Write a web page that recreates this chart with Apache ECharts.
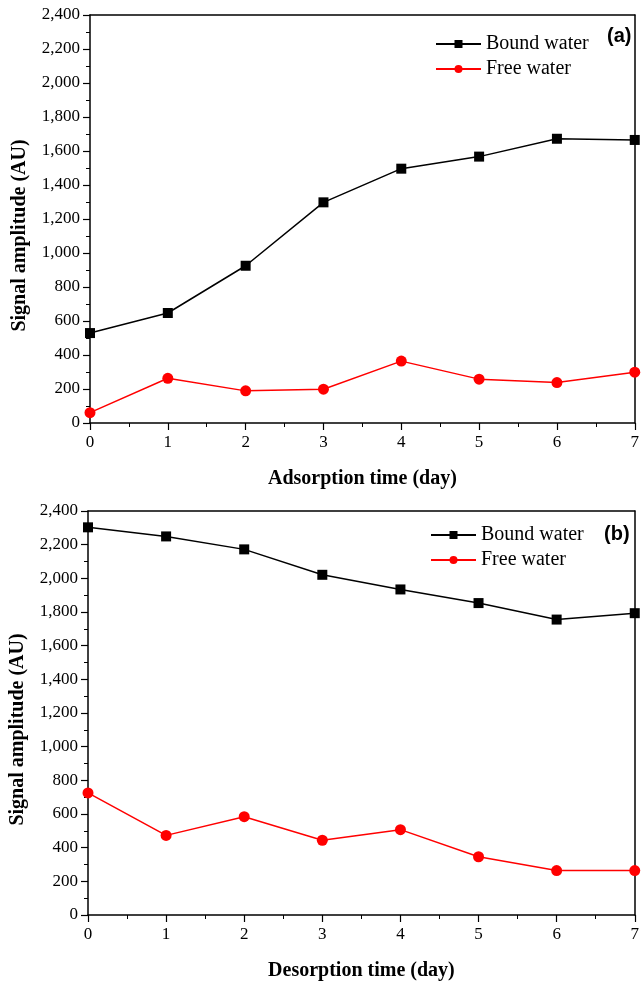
<!DOCTYPE html>
<html><head><meta charset="utf-8">
<script src="https://cdn.jsdelivr.net/npm/echarts@6/dist/echarts.min.js"></script>
<style>html,body{margin:0;padding:0;background:#fff}#c{width:642px;height:982px}</style>
</head><body><div id="c"></div>
<script>
const days = [0,1,2,3,4,5,6,7];
const adsBound = [529,647,925,1298,1496,1567,1672,1665];
const adsFree = [61,263,189,199,364,258,238,299];
const desBound = [2303,2249,2172,2021,1934,1853,1755,1793];
const desFree = [725,473,584,444,507,346,264,264];
const yTickLabels = ['0','200','400','600','800','1,000','1,200','1,400','1,600','1,800','2,000','2,200','2,400'];
const seriesNames = ['Bound water','Free water'];
const xNames = ['Adsorption time (day)','Desorption time (day)'];
const yName = 'Signal amplitude (AU)';

const serif = 'Liberation Serif';
function pairs(v){return days.map((d,i)=>[d,v[i]]);}
function xAxis(gi,name,gap){return {
  gridIndex:gi,type:'value',min:0,max:7,interval:1,name:name,nameLocation:'middle',nameGap:gap,
  nameTextStyle:{fontFamily:serif,fontWeight:'bold',fontSize:20,color:'#000'},
  axisLine:{show:true,onZero:false,lineStyle:{color:'#000',width:1.5}},
  axisTick:{show:true,inside:false,length:7,lineStyle:{color:'#000',width:1.2}},
  minorTick:{show:true,splitNumber:2,length:4,lineStyle:{color:'#000'}},
  axisLabel:{fontFamily:serif,fontSize:17,color:'#000',margin:11},
  splitLine:{show:false}};}
function xTop(gi){return {gridIndex:gi,type:'value',min:0,max:7,position:'top',axisLine:{show:true,onZero:false,lineStyle:{color:'#000',width:1.5}},axisTick:{show:false},axisLabel:{show:false},splitLine:{show:false}};}
function yAxis(gi){return {
  gridIndex:gi,type:'value',min:0,max:2400,interval:200,name:yName,nameLocation:'middle',nameGap:60,
  nameTextStyle:{fontFamily:serif,fontWeight:'bold',fontSize:20,color:'#000',padding:[0,33,0,0]},
  axisLine:{show:true,onZero:false,lineStyle:{color:'#000',width:1.5}},
  axisTick:{show:true,inside:false,length:7,lineStyle:{color:'#000',width:1.2}},
  minorTick:{show:true,splitNumber:2,length:4,lineStyle:{color:'#000'}},
  axisLabel:{fontFamily:serif,fontSize:17,color:'#000',margin:10,formatter:(v)=>yTickLabels[Math.round(v/200)]},
  splitLine:{show:false}};}
function yRight(gi){return {gridIndex:gi,type:'value',min:0,max:2400,position:'right',axisLine:{show:true,onZero:false,lineStyle:{color:'#000',width:1.5}},axisTick:{show:false},axisLabel:{show:false},splitLine:{show:false}};}
function line(name,data,xi,yi,color,symbol,size){return {
  name:name,type:'line',xAxisIndex:xi,yAxisIndex:yi,data:pairs(data),symbol:symbol,symbolSize:size,
  lineStyle:{color:color,width:1.5},itemStyle:{color:color},clip:false,animation:false};}
const legendStyle = {fontFamily:serif,fontSize:20,color:'#000'};
const chart = echarts.init(document.getElementById('c'));
chart.setOption({
  backgroundColor:'#fff',animation:false,
  grid:[{left:90,right:1,top:15,height:408},{left:88,right:1,top:511,height:407}],
  xAxis:[xAxis(0,xNames[0],46),xAxis(1,xNames[1],46),xTop(0),xTop(1)],
  yAxis:[yAxis(0),yAxis(1),yRight(0),yRight(1)],
  legend:[
    {data:seriesNames,left:430,top:29,orient:'vertical',itemWidth:45,itemHeight:10,itemGap:5,textStyle:legendStyle},
    {data:seriesNames,left:425,top:520,orient:'vertical',itemWidth:45,itemHeight:10,itemGap:5,textStyle:legendStyle}
  ],
  graphic:[
    {type:'text',left:607,top:26,style:{text:'(a)',font:'bold 20px "Liberation Sans"',fill:'#000'}},
    {type:'text',left:604,top:524,style:{text:'(b)',font:'bold 20px "Liberation Sans"',fill:'#000'}}
  ],
  series:[
    line(seriesNames[0],adsBound,0,0,'#000','rect',10),
    line(seriesNames[1],adsFree,0,0,'#ff0000','circle',11),
    line(seriesNames[0],desBound,1,1,'#000','rect',10),
    line(seriesNames[1],desFree,1,1,'#ff0000','circle',11)
  ]
});
</script></body></html>
